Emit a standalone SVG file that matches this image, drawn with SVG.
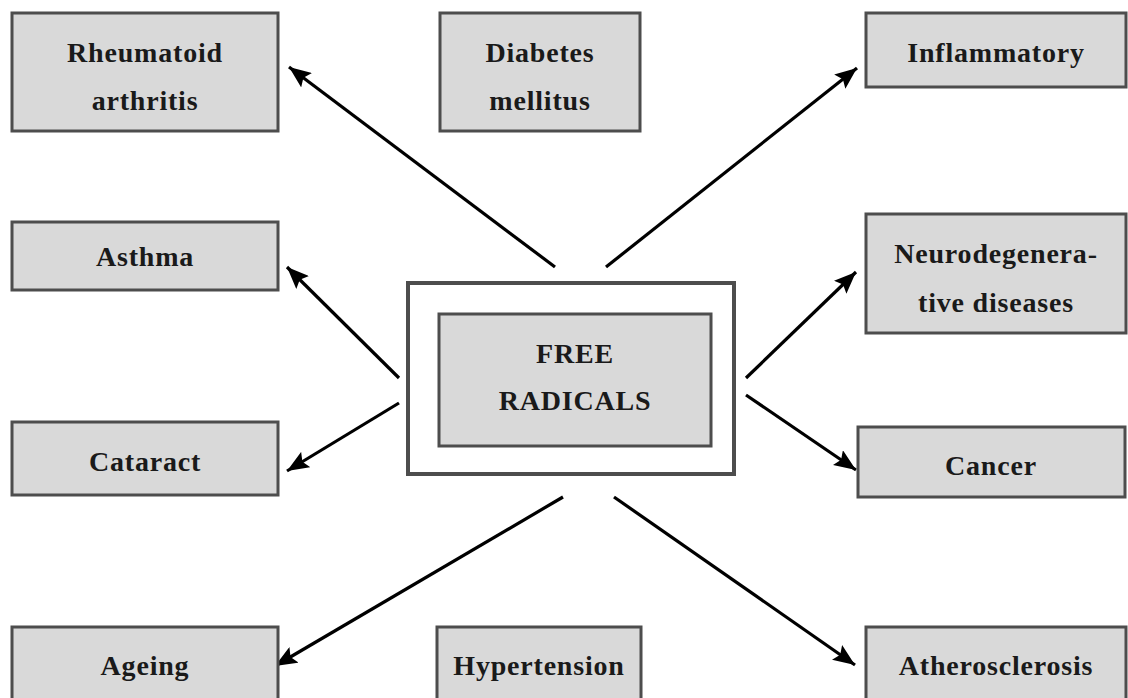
<svg xmlns="http://www.w3.org/2000/svg" width="1128" height="698" viewBox="0 0 1128 698">
<style>
.box{fill:#d9d9d9;stroke:#4d4d4d;stroke-width:3}
.outer{fill:#ffffff;stroke:#4d4d4d;stroke-width:4}
.t{font-family:"Liberation Serif","Times New Roman",serif;font-weight:bold;font-size:28px;letter-spacing:0.8px;fill:#1a1a1a;text-anchor:middle}
.c{stroke:#000;stroke-width:3.2;fill:none;marker-end:url(#ah)}
</style>
<defs>
<marker id="ah" markerUnits="userSpaceOnUse" markerWidth="24" markerHeight="18" refX="22" refY="9" orient="auto">
<path d="M0,0 L22,9 L0,18 L4,9 z" fill="#000"/>
</marker>
</defs>
<rect width="1128" height="698" fill="#ffffff"/>
<g id="connectors">
<line class="c" x1="555" y1="267" x2="289" y2="67"/>
<line class="c" x1="606" y1="267" x2="857" y2="68"/>
<line class="c" x1="399" y1="378" x2="287" y2="267"/>
<line class="c" x1="399" y1="403" x2="287" y2="471"/>
<line class="c" x1="746" y1="378" x2="856" y2="272"/>
<line class="c" x1="746" y1="395" x2="856" y2="470"/>
<line class="c" x1="563" y1="497" x2="275" y2="666"/>
<line class="c" x1="614" y1="497" x2="855" y2="665"/>
</g>
<g id="free-radicals">
<rect class="outer" x="408" y="283" width="326" height="191"/>
<rect class="box" x="439" y="314" width="272" height="132"/>
<text class="t" x="575" y="363">FREE</text>
<text class="t" x="575" y="410">RADICALS</text>
</g>
<g id="rheumatoid">
<rect class="box" x="12" y="13" width="266" height="118"/>
<text class="t" x="145" y="62">Rheumatoid</text>
<text class="t" x="145" y="110">arthritis</text>
</g>
<g id="diabetes">
<rect class="box" x="440" y="13" width="200" height="118"/>
<text class="t" x="540" y="62">Diabetes</text>
<text class="t" x="540" y="110">mellitus</text>
</g>
<g id="inflammatory">
<rect class="box" x="866" y="13" width="260" height="74"/>
<text class="t" x="996" y="62">Inflammatory</text>
</g>
<g id="asthma">
<rect class="box" x="12" y="222" width="266" height="68"/>
<text class="t" x="145" y="266">Asthma</text>
</g>
<g id="neurodegenerative">
<rect class="box" x="866" y="214" width="260" height="119"/>
<text class="t" x="996" y="263">Neurodegenera-</text>
<text class="t" x="996" y="312">tive diseases</text>
</g>
<g id="cataract">
<rect class="box" x="12" y="422" width="266" height="73"/>
<text class="t" x="145" y="471">Cataract</text>
</g>
<g id="cancer">
<rect class="box" x="858" y="427" width="267" height="70"/>
<text class="t" x="991" y="475">Cancer</text>
</g>
<g id="ageing">
<rect class="box" x="12" y="627" width="266" height="80"/>
<text class="t" x="145" y="675">Ageing</text>
</g>
<g id="hypertension">
<rect class="box" x="437" y="627" width="204" height="80"/>
<text class="t" x="539" y="675">Hypertension</text>
</g>
<g id="atherosclerosis">
<rect class="box" x="866" y="627" width="260" height="80"/>
<text class="t" x="996" y="675">Atherosclerosis</text>
</g>
</svg>
